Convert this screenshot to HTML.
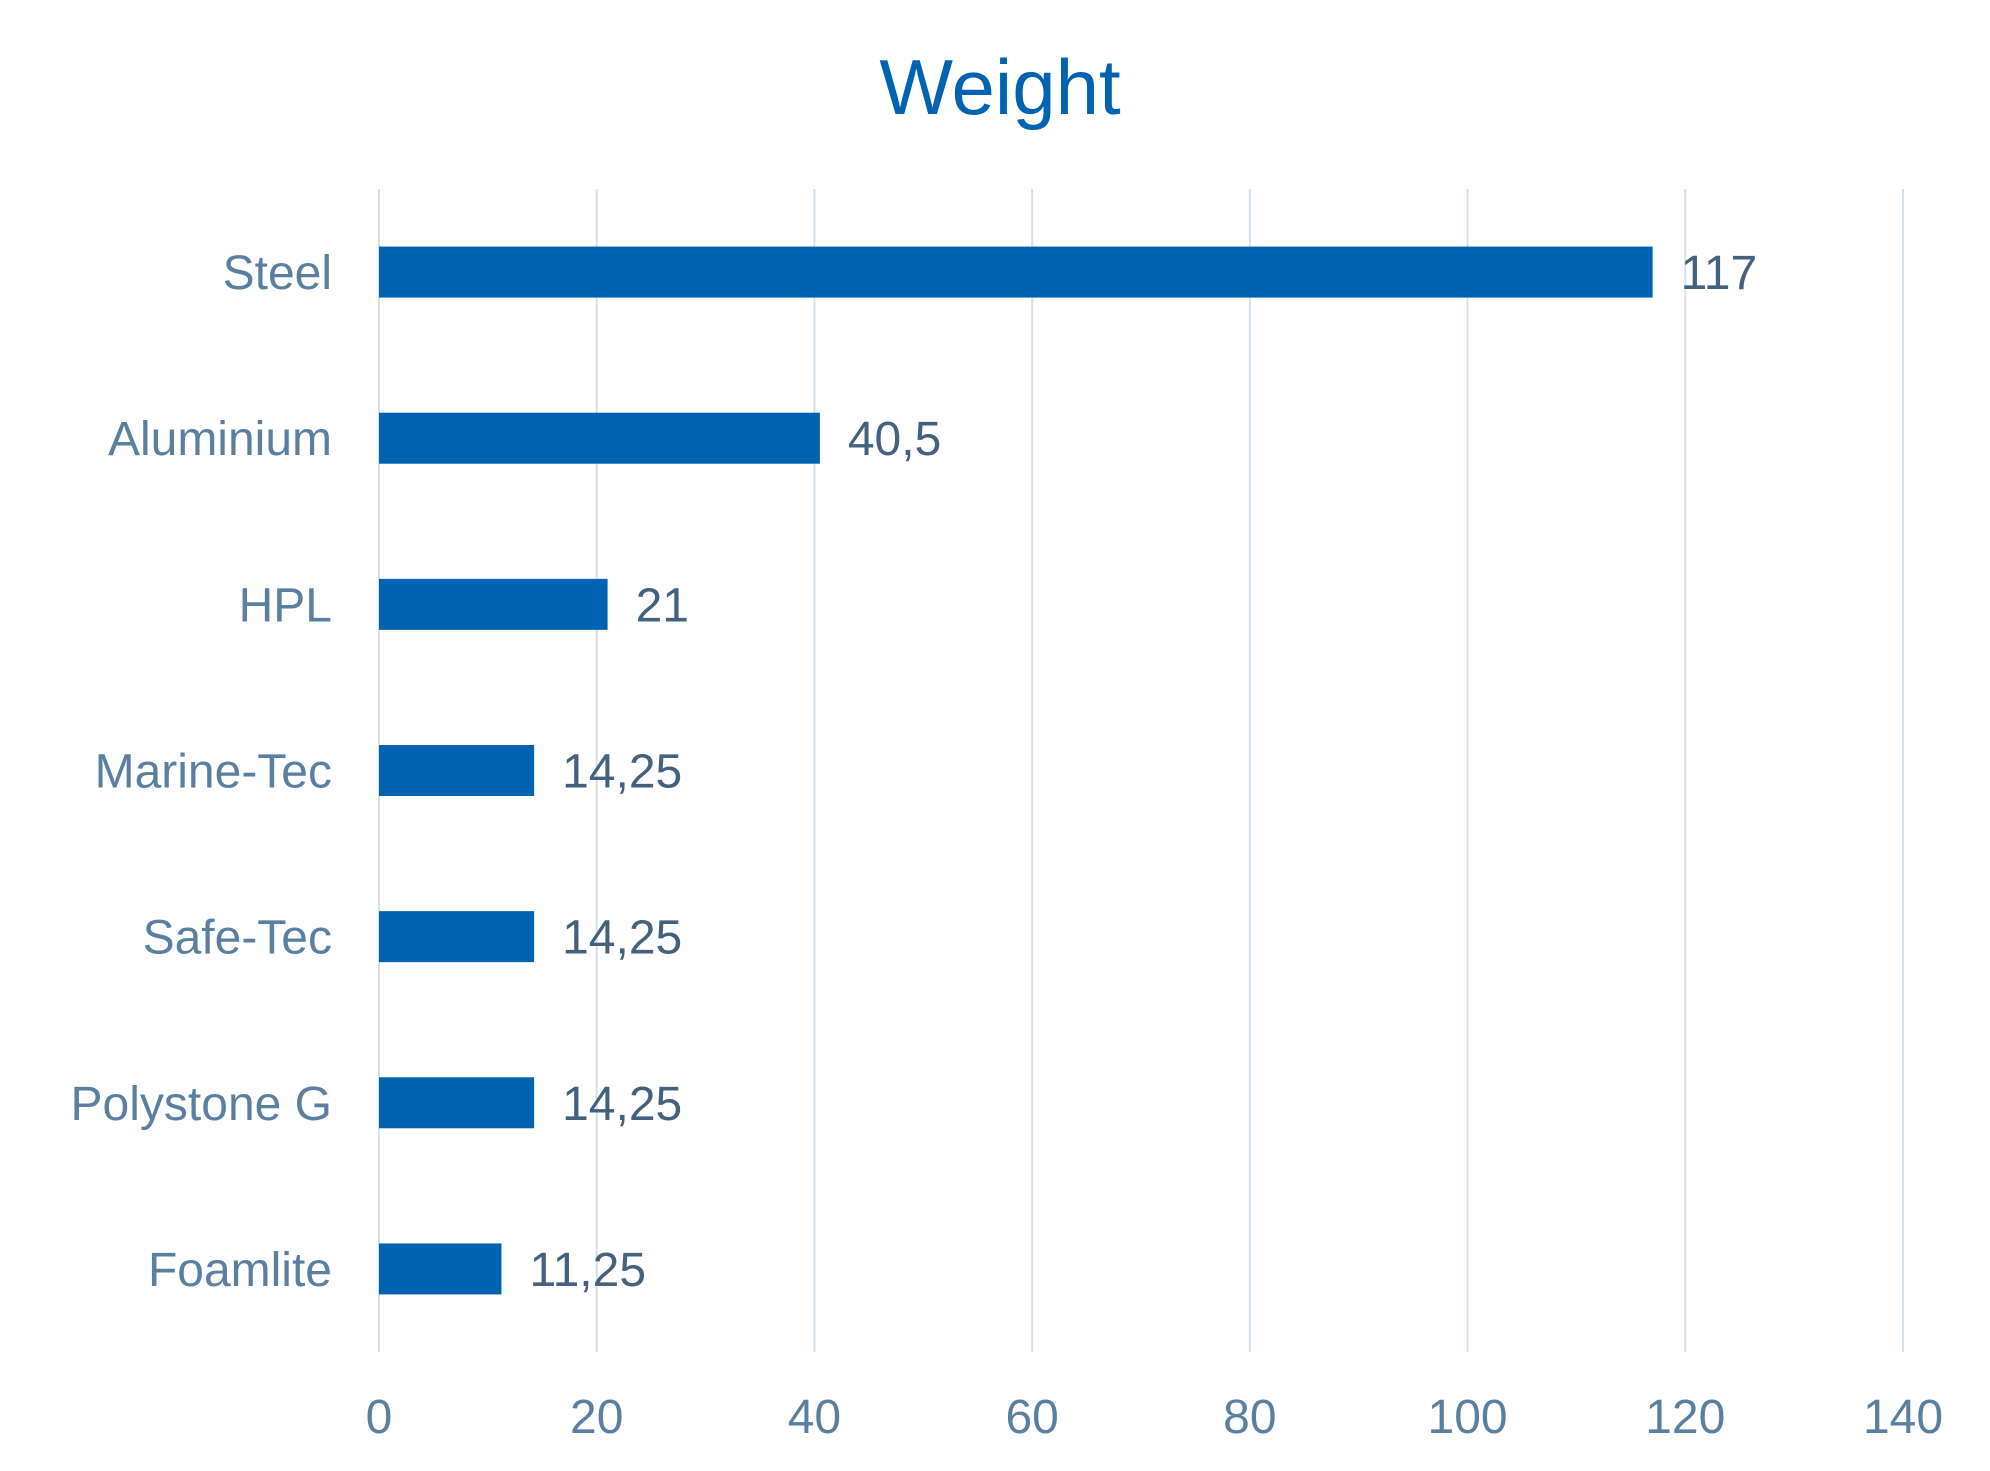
<!DOCTYPE html>
<html><head><meta charset="utf-8"><style>
body{margin:0;background:#fff;}
svg{display:block;font-family:"Liberation Sans",Arial,sans-serif;}
</style></head><body>
<svg id="chart" width="1990" height="1471" viewBox="0 0 1990 1471">
<text x="1000" y="114" text-anchor="middle" font-size="78" fill="#0063b1">Weight</text>
<g id="grid"></g>
<g id="bars"></g>
<g id="labels"></g>
</svg>
<script>
const categories=["Steel","Aluminium","HPL","Marine-Tec","Safe-Tec","Polystone G","Foamlite "];
const values=[117,40.5,21,14.25,14.25,14.25,11.25];
const valueLabels=["117","40,5","21","14,25","14,25","14,25","11,25"];
const ticks=[0,20,40,60,80,100,120,140];
const NS="http://www.w3.org/2000/svg";
const x0=379,x1=1903,xmax=140;
const xs=v=>x0+(x1-x0)*v/xmax;
const yTop=189,yBot=1352,band=(yBot-yTop)/categories.length;
const yc=i=>yTop+band*(i+0.5);
function mk(t,a,p){const e=document.createElementNS(NS,t);for(const k in a)e.setAttribute(k,a[k]);p.appendChild(e);return e;}
const g=document.getElementById('grid'),b=document.getElementById('bars'),l=document.getElementById('labels');
ticks.forEach(t=>{
 const ln=mk('line',{x1:xs(t),x2:xs(t),y1:yTop,y2:yBot,stroke:'#d6e0ea','stroke-width':2},g);
 
 
 const tx=mk('text',{x:xs(t),y:1433,'text-anchor':'middle','font-size':48,fill:'#5a7fa0'},l);
 tx.textContent=t;
 
 
});
categories.forEach((c,i)=>{
 const h=51;
 const r=mk('rect',{x:xs(0),y:yc(i)-h/2,width:xs(values[i])-xs(0),height:h,fill:'#0063b1'},b);
 
 
 const ct=mk('text',{x:332,y:yc(i)+17,'text-anchor':'end','font-size':48,fill:'#5a7fa0','xml:space':'preserve'},l);
 ct.textContent=c;
 
 
 const vt=mk('text',{x:xs(values[i])+28,y:yc(i)+17,'font-size':48,fill:'#44617e'},l);
 vt.textContent=valueLabels[i];
 
 
});
</script>
</body></html>
